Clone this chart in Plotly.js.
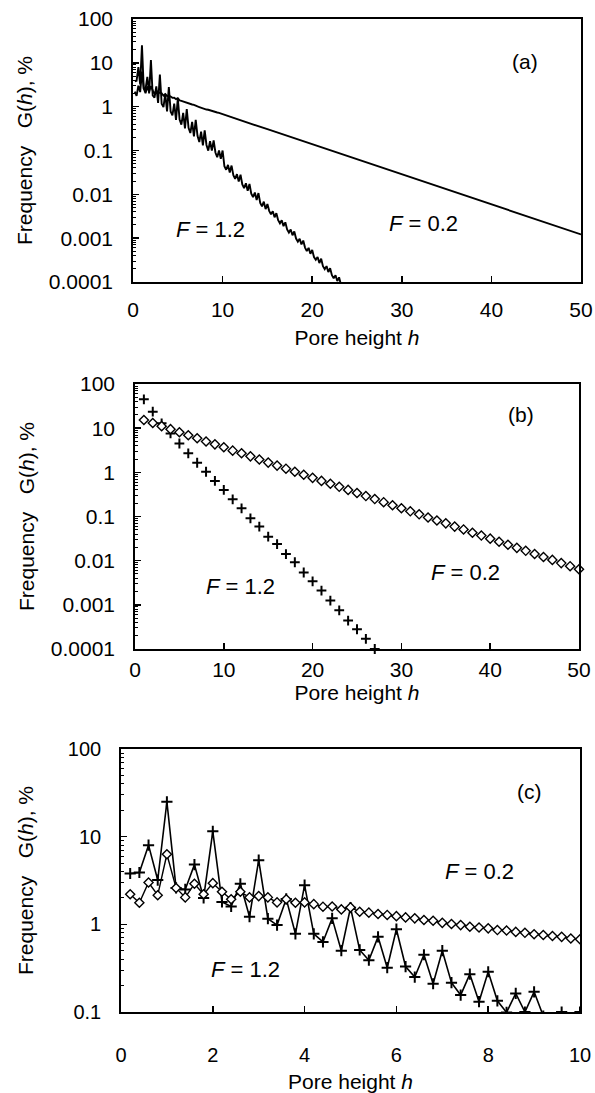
<!DOCTYPE html>
<html><head><meta charset="utf-8">
<script src="https://cdn.plot.ly/plotly-3.0.1.min.js"></script>
<style>html,body{margin:0;padding:0;background:#fff}#chart{width:595px;height:1093px}</style>
</head><body><div id="chart"></div>
<script>
// ---- Panel (c) data (also the start of panel (a)) : pore height h = 0.2 ... 10
const hC = [0.2,0.4,0.6,0.8,1.0,1.2,1.4,1.6,1.8,2.0,2.2,2.4,2.6,2.8,3.0,3.2,3.4,3.6,3.8,4.0,
            4.2,4.4,4.6,4.8,5.0,5.2,5.4,5.6,5.8,6.0,6.2,6.4,6.6,6.8,7.0,7.2,7.4,7.6,7.8,8.0,
            8.2,8.4,8.6,8.8,9.0,9.2,9.4,9.6,9.8,10.0];
const gC_F12 = [3.8,3.9,8.0,3.2,25,2.6,2.5,4.8,2.0,11.5,1.8,1.6,2.9,1.22,5.4,1.16,0.98,1.95,0.78,2.8,
                0.78,0.63,1.17,0.50,1.55,0.51,0.39,0.72,0.32,0.88,0.33,0.25,0.45,0.21,0.50,0.216,0.156,0.27,0.131,0.288,
                0.134,0.099,0.163,0.1,0.17,0.09,0.07,0.1,0.065,0.1];
const gC_F02 = [2.2,1.76,3.0,2.15,6.3,2.6,2.03,2.9,2.2,2.95,2.35,1.93,2.35,2.03,2.1,2.03,1.78,1.93,1.76,1.78,
                1.70,1.59,1.6,1.48,1.56,1.39,1.36,1.31,1.28,1.24,1.20,1.17,1.12,1.10,1.04,1.01,0.98,0.94,0.92,0.90,
                0.86,0.85,0.82,0.80,0.77,0.755,0.735,0.72,0.69,0.675];

// ---- Panel (a) continuation beyond h = 10
const hA_F12_tail = [10.2,10.4,10.6,10.8,11.0,11.2,11.4,11.6,11.8,12.0,12.2,12.4,12.6,12.8,13.0,
                     13.2,13.4,13.6,13.8,14.0,14.2,14.4,14.6,14.8,15.0,15.2,15.4,15.6,15.8,16.0,
                     16.2,16.4,16.6,16.8,17.0,17.2,17.4,17.6,17.8,18.0,18.2,18.4,18.6,18.8,19.0,
                     19.2,19.4,19.6,19.8,20.0,20.2,20.4,20.6,20.8,21.0,21.2,21.4,21.6,21.8,22.0,
                     22.2,22.4,22.6,22.8,23.0,23.2,23.4];
const gA_F12_tail = [0.044,0.0364,0.0468,0.0315,0.0453,0.0272,0.0225,0.0289,0.0195,0.0280,0.0168,0.0139,0.0179,0.0120,0.0173,
                     0.0104,0.0086,0.0110,0.0074,0.0107,0.0064,0.0053,0.0068,0.0046,0.0060,0.0042,0.0035,0.0041,0.0030,0.0037,
                     0.00257,0.00218,0.00255,0.00188,0.00230,0.00158,0.00134,0.00157,0.00116,0.00142,0.00098,0.00083,0.00097,0.00072,0.00088,
                     0.00061,0.00051,0.00060,0.00044,0.00054,0.00037,0.00032,0.00037,0.00027,0.00034,0.00023,0.000196,0.00023,0.000169,0.000207,
                     0.000143,0.000121,0.000142,0.000105,0.000128,0.000088,0.000075];
const hA_F02_tail = [15,20,25,30,35,40,45,50];
const gA_F02_tail = [0.306,0.139,0.063,0.029,0.0131,0.0059,0.0027,0.00122];

// ---- Panel (b) data: integer pore heights
const hB = [1,2,3,4,5,6,7,8,9,10,11,12,13,14,15,16,17,18,19,20,21,22,23,24,25,
            26,27,28,29,30,31,32,33,34,35,36,37,38,39,40,41,42,43,44,45,46,47,48,49,50];
const gB_F02 = [15.3,13.1,11.1,9.5,8.1,6.9,5.9,5.0,4.3,3.7,3.1,2.7,2.3,1.95,1.66,1.42,1.21,1.03,0.88,0.75,
                0.64,0.55,0.47,0.40,0.34,0.29,0.248,0.211,0.180,0.154,0.131,0.112,0.095,0.081,0.070,0.059,0.051,0.043,0.037,0.0315,
                0.0269,0.0229,0.0195,0.0167,0.0142,0.0121,0.0104,0.0088,0.0075,0.0064];
const hB_F12 = [1,2,3,4,5,6,7,8,9,10,11,12,13,14,15,16,17,18,19,20,21,22,23,24,25,26,27];
const gB_F12 = [45,23.6,12.9,7.6,4.5,2.7,1.65,1.03,0.64,0.40,0.245,0.153,0.091,0.059,0.035,0.0238,0.0141,0.0092,0.0054,0.0034,
                0.0021,0.00125,0.00075,0.00044,0.00028,0.00017,0.0001];

// ---- Tick labels and texts
const yTickValsAB = [0.0001,0.001,0.01,0.1,1,10,100];
const yTickTextAB = ['0.0001','0.001','0.01','0.1','1','10','100'];
const yTickValsC = [0.1,1,10,100];
const yTickTextC = ['0.1','1','10','100'];
const panelLabels = ['(a)','(b)','(c)'];
const seriesLabels = ['<i>F</i> = 1.2','<i>F</i> = 0.2'];
const xTitle = 'Pore height <i>h</i>';
const yTitle = 'Frequency\u00a0\u00a0\u00a0G(<i>h</i>), %';

const W = 595, H = 1093;
const px = v => v / W;
const py = v => 1 - v / H;
const FONT = 'Liberation Sans, Arial, sans-serif';

const lineA = {color:'black', width:1.9};
const traces = [
  {x: hC.concat(hA_F12_tail), y: gC_F12.concat(gA_F12_tail), mode:'lines', line: lineA, xaxis:'x', yaxis:'y'},
  {x: hC.concat(hA_F02_tail), y: gC_F02.concat(gA_F02_tail), mode:'lines', line: lineA, xaxis:'x', yaxis:'y'},
  {x: hB_F12, y: gB_F12, mode:'markers', cliponaxis:false,
   marker:{symbol:'cross-thin-open', size:7, color:'black', line:{color:'black', width:2}}, xaxis:'x2', yaxis:'y2'},
  {x: hB, y: gB_F02, mode:'markers', cliponaxis:false,
   marker:{symbol:'diamond', size:7, color:'white', line:{color:'black', width:1.4}}, xaxis:'x2', yaxis:'y2'},
  {x: hC, y: gC_F12, mode:'lines+markers', line:{color:'black', width:1.6},
   marker:{symbol:'cross-thin-open', size:8, color:'black', line:{color:'black', width:2}}, xaxis:'x3', yaxis:'y3'},
  {x: hC, y: gC_F02, mode:'lines+markers', line:{color:'black', width:1.4},
   marker:{symbol:'diamond', size:7, color:'white', line:{color:'black', width:1.4}}, xaxis:'x3', yaxis:'y3'}
];

function xAx(domain, anchor, range, dtick, standoffLabels, titleStandoff, fs) {
  return {domain: domain, anchor: anchor, range: range, dtick: dtick, tick0: 0,
    showgrid:false, zeroline:false, showline:true, mirror:true, linecolor:'black', linewidth:1.8,
    ticks:'inside', ticklen:6, tickwidth:1.5, tickcolor:'black',
    ticklabelstandoff: standoffLabels,
    tickfont:{family:FONT, size:fs, color:'black'},
    title:{text:xTitle, standoff:titleStandoff, font:{family:FONT, size:21, color:'black'}}};
}
function yAx(domain, anchor, range, tv, tt, titleStandoff, fs) {
  return {domain: domain, anchor: anchor, type:'log', range: range,
    tickvals: tv, ticktext: tt,
    showgrid:false, zeroline:false, showline:true, mirror:true, linecolor:'black', linewidth:1.8,
    ticks:'inside', ticklen:6, tickwidth:1.5, tickcolor:'black',
    minor:{ticks:'inside', ticklen:3, tickwidth:1, tickcolor:'black', dtick:'D1', showgrid:false},
    ticklabelstandoff: 14,
    tickfont:{family:FONT, size:fs, color:'black'},
    title:{text:yTitle, standoff:titleStandoff, font:{family:FONT, size:21, color:'black'}}};
}

const ann = (text, x, y, size) => ({text: text, x: px(x), y: py(y), xref:'paper', yref:'paper',
  xanchor:'center', yanchor:'middle', showarrow:false, font:{family:FONT, size:size, color:'black'}});

const layout = {
  width: W, height: H, margin:{l:0, r:0, t:0, b:0},
  paper_bgcolor:'white', plot_bgcolor:'white', showlegend:false,
  font:{family:FONT, color:'black'},
  xaxis:  xAx([px(133), px(581)], 'y',  [0,50], 10, 8, 10, 21),
  yaxis:  yAx([py(282), py(19)],  'x',  [-4,2], yTickValsAB, yTickTextAB, 10, 21),
  xaxis2: xAx([px(135), px(579)], 'y2', [0,50], 10, 1, 4, 21),
  yaxis2: yAx([py(649), py(384)], 'x2', [-4,2], yTickValsAB, yTickTextAB, 10, 21),
  xaxis3: xAx([px(121), px(580)], 'y3', [0,10], 2, 24, 14, 20),
  yaxis3: yAx([py(1012), py(749)], 'x3', [-1,2], yTickValsC, yTickTextC, 28, 20),
  annotations: [
    ann(panelLabels[0], 525, 62, 21), ann(seriesLabels[0], 210, 230, 22), ann(seriesLabels[1], 423, 223, 22),
    ann(panelLabels[1], 521, 415, 21), ann(seriesLabels[0], 240, 586, 22), ann(seriesLabels[1], 465, 572, 22),
    ann(panelLabels[2], 529, 791, 21), ann(seriesLabels[1], 479, 871, 22), ann(seriesLabels[0], 245, 969, 22)
  ]
};

Plotly.newPlot('chart', traces, layout, {staticPlot:true, displayModeBar:false, responsive:false});
</script>
</body></html>
